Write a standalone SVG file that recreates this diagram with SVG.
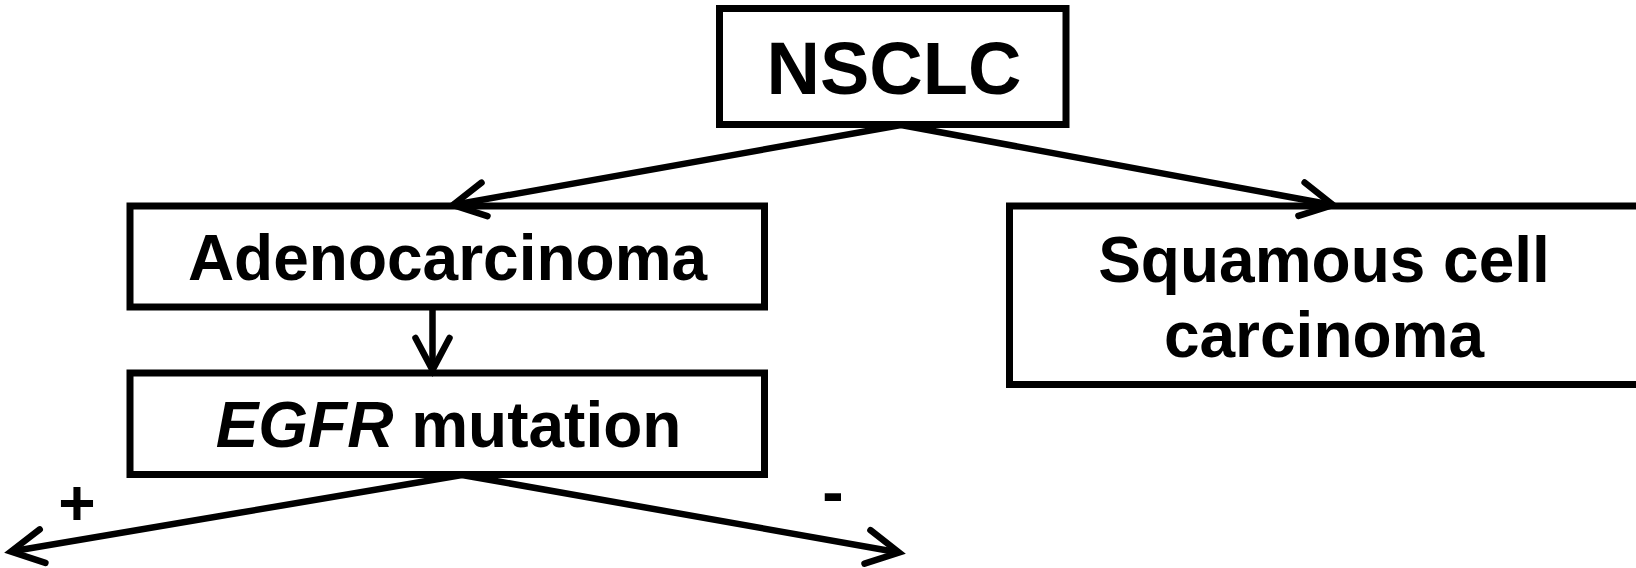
<svg xmlns="http://www.w3.org/2000/svg" width="1636" height="568" viewBox="0 0 1636 568">
  <style>
    .box { fill: #ffffff; stroke: #000000; stroke-width: 7; }
    .label { font-family: "Liberation Sans", Arial, sans-serif; font-weight: bold; font-size: 64px; fill: #000000; text-anchor: middle; }
    .edge { fill: none; stroke: #000000; stroke-width: 6.5; marker-end: url(#open-arrow); }
  </style>
  <defs>
    <!-- open V arrowhead, tip at the path end -->
    <marker id="open-arrow" markerUnits="userSpaceOnUse" orient="auto" refX="0" refY="0"
            viewBox="-45 -30 55 60" markerWidth="55" markerHeight="60" overflow="visible">
      <path d="M-32,-17 L0,0 L-32,17" fill="none" stroke="#000000" stroke-width="6.5"
            stroke-linecap="round" stroke-linejoin="miter"/>
    </marker>
  </defs>

  <rect width="1636" height="568" fill="#ffffff"/>

  <g id="nsclc">
    <rect class="box" x="719.5" y="8.5" width="346.5" height="116"/>
    <text class="label" x="894" y="94" style="font-size:74px">NSCLC</text>
  </g>

  <g id="adenocarcinoma">
    <rect class="box" x="130" y="206" width="634.5" height="101"/>
    <text class="label" x="447.5" y="280">Adenocarcinoma</text>
  </g>

  <g id="egfr-mutation">
    <rect class="box" x="130" y="373" width="634.5" height="101.5"/>
    <text class="label" x="448.5" y="446.5"><tspan font-style="italic">EGFR</tspan> mutation</text>
  </g>

  <g id="squamous">
    <rect class="box" x="1009.5" y="206" width="631" height="178.5"/>
    <text class="label" x="1324" y="282">Squamous cell</text>
    <text class="label" x="1324" y="356.5">carcinoma</text>
  </g>

  <g id="connectors">
    <line class="edge" x1="901" y1="125" x2="453" y2="205"/>
    <line class="edge" x1="901" y1="125" x2="1333" y2="205"/>
    <line class="edge" x1="432.5" y1="307" x2="432.5" y2="370"/>
    <line class="edge" x1="462" y1="475" x2="11" y2="551.5"/>
    <line class="edge" x1="462" y1="475" x2="899" y2="552.5"/>
    <text class="label" x="77" y="525">+</text>
    <text class="label" x="833" y="513.5">-</text>
  </g>
</svg>
